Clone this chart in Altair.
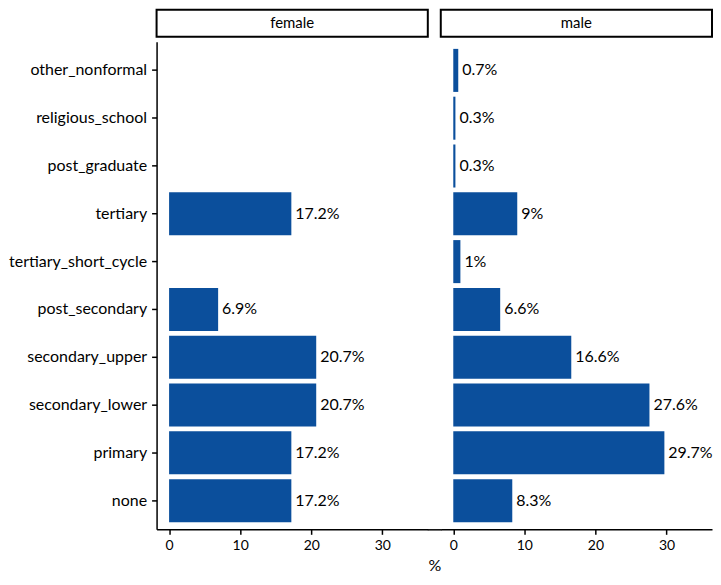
import altair as alt
import pandas as pd

categories = ["other_nonformal", "religious_school", "post_graduate", "tertiary",
              "tertiary_short_cycle", "post_secondary", "secondary_upper",
              "secondary_lower", "primary", "none"]

female_cats = ["tertiary", "post_secondary", "secondary_upper", "secondary_lower", "primary", "none"]
female_vals = [17.2, 6.9, 20.7, 20.7, 17.2, 17.2]
female_labels = ["17.2%", "6.9%", "20.7%", "20.7%", "17.2%", "17.2%"]

male_cats = categories
male_vals = [0.7, 0.3, 0.3, 9, 1, 6.6, 16.6, 27.6, 29.7, 8.3]
male_labels = ["0.7%", "0.3%", "0.3%", "9%", "1%", "6.6%", "16.6%", "27.6%", "29.7%", "8.3%"]

panel_names = ["female", "male"]
x_ticks = [0, 10, 20, 30]

W, H, GAP = 272, 489, 13
FONT = "Lato"
BAR = "#0B4F9C"


def panel(cats, vals, labels, name, first):
    df = pd.DataFrame({"category": cats, "value": vals, "label": labels})
    xscale = alt.Scale(domain=[-1.76, 36.4], nice=False, zero=False)
    yscale = alt.Scale(domain=categories, paddingInner=0.1, paddingOuter=0.15)
    xaxis = alt.Axis(values=x_ticks, title="%" if first else None, grid=False,
                     labelPadding=4,
                     titleX=W + GAP / 2 if first else 0, titleY=28, titleAlign="center",
                     titleFontSize=16, titleFontWeight="normal")
    yaxis = alt.Axis(title=None, grid=False, labelFontSize=16, labelPadding=5) if first else None
    base = alt.Chart(df)
    bars = base.mark_bar(color=BAR).encode(
        x=alt.X("value:Q", scale=xscale, axis=xaxis),
        x2=alt.datum(0),
        y=alt.Y("category:N", scale=yscale, axis=yaxis, sort=categories),
    )
    text = base.mark_text(align="left", baseline="middle", dx=4, fontSize=16,
                          font=FONT, color="black").encode(
        x=alt.X("value:Q", scale=xscale),
        y=alt.Y("category:N", scale=yscale, sort=categories),
        text="label:N",
    )
    sdf = pd.DataFrame({"panel": [name]})
    strip = alt.Chart(sdf).mark_rect(fill="white", stroke="black", strokeWidth=2).encode(
        x=alt.value(0), x2=alt.value(W), y=alt.value(-32), y2=alt.value(-5))
    strip_text = alt.Chart(sdf).mark_text(fontSize=15, font=FONT, color="black",
                                          baseline="middle").encode(
        x=alt.value(W / 2), y=alt.value(-18.5), text="panel:N")
    layers = [bars, text, strip, strip_text]
    if first:
        gap_rule = alt.Chart(sdf).mark_rule(color="black", strokeWidth=1.5).encode(
            x=alt.value(W), x2=alt.value(W + GAP + 1), y=alt.value(H + 0.5))
        layers.append(gap_rule)
    return alt.layer(*layers).properties(width=W, height=H)


left = panel(female_cats, female_vals, female_labels, panel_names[0], True)
right = panel(male_cats, male_vals, male_labels, panel_names[1], False)

chart = alt.hconcat(left, right, spacing=GAP, bounds="flush").properties(
    padding={"left": 0, "top": 0, "right": 0, "bottom": 0}
).configure_view(stroke=None).configure_axis(
    domainColor="black", domainWidth=1.5, tickColor="black", tickWidth=1.5, tickSize=5,
    labelFont=FONT, labelFontSize=14, labelColor="black", labelPadding=3,
    titleFont=FONT, titleColor="black"
)

chart.save("out.html", embed_options={"renderer": "svg", "actions": False})
